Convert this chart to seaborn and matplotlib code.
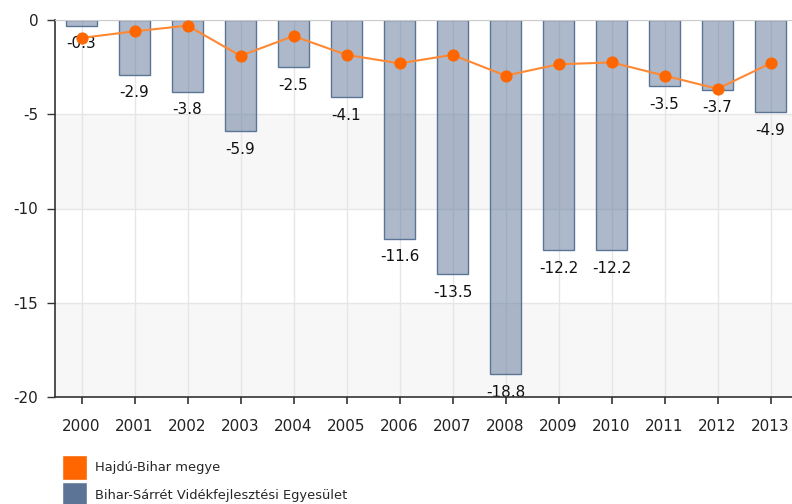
import numpy as np
import pandas as pd
import seaborn as sns
import matplotlib.pyplot as plt
from matplotlib.patches import Patch

years = [str(y) for y in range(2000, 2014)]
# Bihar-Sárrét Vidékfejlesztési Egyesület (bars)
egyesulet = [-0.3, -2.9, -3.8, -5.9, -2.5, -4.1, -11.6, -13.5, -18.8, -12.2, -12.2, -3.5, -3.7, -4.9]
# Hajdú-Bihar megye (line)
megye = [-0.95, -0.6, -0.3, -1.9, -0.85, -1.85, -2.3, -1.85, -2.95, -2.35, -2.25, -2.95, -3.65, -2.3]

bar_color = (0.36, 0.46, 0.59)
orange = "#ff6600"

sns.set_style("white")
plt.rcParams['font.family'] = ['DejaVu Sans']

fig = plt.figure(figsize=(7.92, 5.04), dpi=100)
ax = fig.add_axes([55 / 792, 1 - 397 / 504, 742 / 792, 377 / 504])

# alternating plot bands
for lo, hi in [(-10, -5), (-20, -15)]:
    ax.axhspan(lo, hi, color="#f7f7f7", zorder=0, lw=0)

df = pd.DataFrame({"year": years, "value": egyesulet})
sns.barplot(data=df, x="year", y="value", ax=ax, width=0.6,
            color=(*bar_color, 0.5), edgecolor=bar_color, linewidth=1,
            saturation=1, zorder=2)

for i, v in enumerate(egyesulet):
    ax.annotate(f"{v:.1f}", (i, v), xytext=(0, -13), textcoords="offset points",
                ha="center", va="center", fontsize=11, color="#111111", zorder=1)

sns.lineplot(x=np.arange(len(years)), y=megye, ax=ax, color="#ff8833", lw=1.5,
             marker="o", markersize=8, markerfacecolor=orange,
             markeredgecolor=orange, zorder=4)

ax.set_xlim(-0.5, 13.5)
ax.set_ylim(-20, 0)
ax.set_yticks([0, -5, -10, -15, -20])
ax.set_yticklabels(["0", "-5", "-10", "-15", "-20"])
ax.set_xlabel("")
ax.set_ylabel("")
ax.grid(True, color="#e6e6e6", lw=1)
ax.set_axisbelow(True)

for s in ["left", "bottom"]:
    ax.spines[s].set_color("#333333")
    ax.spines[s].set_linewidth(1.2)
ax.spines["top"].set_color("#cccccc")
ax.spines["right"].set_visible(False)
ax.spines["bottom"].set_zorder(5)

ax.tick_params(axis="y", length=6, width=1, color="#333333", left=True,
               labelsize=11, pad=6, labelcolor="#222222")
ax.tick_params(axis="x", length=5, width=1.2, color="#333333", bottom=True,
               labelsize=11, pad=11, labelcolor="#222222")

handles = [Patch(facecolor=orange, edgecolor="white"),
           Patch(facecolor=bar_color, edgecolor="white")]
fig.legend(handles, ["Hajdú-Bihar megye", "Bihar-Sárrét Vidékfejlesztési Egyesület"],
           loc="upper left", bbox_to_anchor=(58 / 792, 1 - 451 / 504),
           frameon=False, fontsize=9.4, handlelength=1.9, handleheight=2.6,
           labelspacing=0.15, handletextpad=0.6, borderpad=0.3, borderaxespad=0)

fig.savefig("out.png", dpi=100)
